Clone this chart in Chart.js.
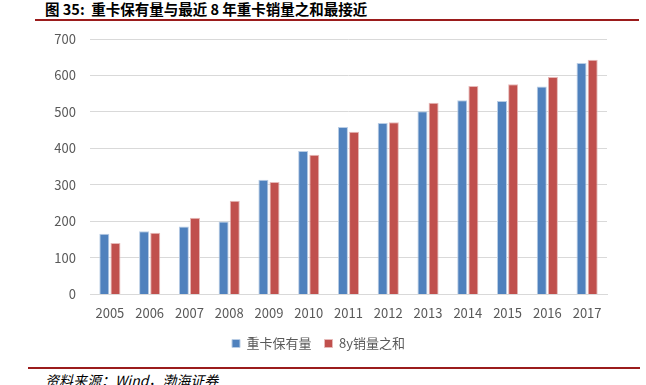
<!DOCTYPE html>
<html lang="zh">
<head>
<meta charset="UTF-8">
<title>重卡保有量与最近8年重卡销量之和</title>
<script src="https://cdn.jsdelivr.net/npm/chart.js"></script>
<style>
  html, body { margin: 0; padding: 0; background: #fff; }
  body { width: 646px; height: 385px; position: relative; overflow: hidden; font-family: "Noto Sans CJK SC", sans-serif; }
  #title { position: absolute; left: 45px; top: 0px; font-size: 14.5px; font-weight: bold; color: #000; line-height: 17px; }
  #topLine { position: absolute; left: 35px; top: 19px; width: 604px; height: 2px; background: #9b1c1c; }
  #bottomLine { position: absolute; left: 28px; top: 367px; width: 612px; height: 2px; background: #9b1c1c; }
  #source { position: absolute; left: 45px; top: 372px; font-size: 14px; font-style: italic; color: #000; line-height: 17px; }
  #wrap { position: absolute; left: 0; top: 0; width: 646px; height: 365px; }
</style>
</head>
<body>
<div id="title">图 35:&nbsp; 重卡保有量与最近 8 年重卡销量之和最接近</div>
<div id="topLine"></div>
<div id="wrap"><canvas id="chart"></canvas></div>
<div id="bottomLine"></div>
<div id="source">资料来源：Wind，渤海证券</div>
<script>
const years = ['2005','2006','2007','2008','2009','2010','2011','2012','2013','2014','2015','2016','2017'];
const holdings = [166, 173, 186, 200, 314, 393, 459, 470, 502, 532, 530, 570, 634];
const sales8y = [141, 169, 210, 257, 308, 383, 446, 472, 525, 571, 576, 596, 643];
const yTicks = [0, 100, 200, 300, 400, 500, 600, 700];

const ctx = document.getElementById('chart').getContext('2d');
new Chart(ctx, {
  type: 'bar',
  data: {
    labels: years,
    datasets: [{
      label: '重卡保有量',
      data: holdings,
      backgroundColor: '#4F81BD',
      borderColor: '#b9cde5',
      borderWidth: 1
    }, {
      label: '8y销量之和',
      data: sales8y,
      backgroundColor: '#C0504D',
      borderColor: '#e6b9b8',
      borderWidth: 1
    }]
  },
  options: {
    responsive: true,
    maintainAspectRatio: false,
    animation: false,
    layout: { padding: { left: 30, right: 39, top: 39, bottom: 5 } },
    datasets: { bar: { categoryPercentage: 0.56, barPercentage: 0.9 } },
    plugins: {
      legend: {
        position: 'bottom',
        labels: {
          boxWidth: 8, boxHeight: 8, padding: 13,
          color: '#595959',
          font: { family: 'Noto Sans CJK SC', size: 13 }
        }
      },
      tooltip: { enabled: false }
    },
    scales: {
      x: {
        grid: { display: false },
        border: { display: true, color: '#d9d9d9' },
        ticks: { color: '#595959', font: { family: 'Noto Sans CJK SC', size: 13 }, padding: 3, maxRotation: 0 }
      },
      y: {
        min: 0, max: 700,
        afterBuildTicks: s => { s.ticks = yTicks.map(v => ({ value: v })); },
        afterFit: s => { s.width = 60; },
        grid: { color: '#d9d9d9', lineWidth: 1, drawTicks: false },
        border: { display: false },
        ticks: { color: '#595959', font: { family: 'Noto Sans CJK SC', size: 13 }, padding: 14 }
      }
    }
  }
});
</script>
</body>
</html>
